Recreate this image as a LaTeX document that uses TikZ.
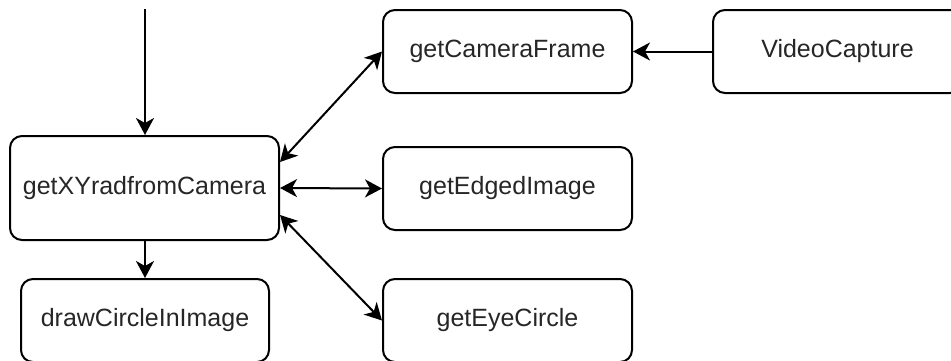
\documentclass[tikz,border=0pt]{standalone}
\usepackage{fontspec}
\setmainfont{Liberation Sans}
\usetikzlibrary{arrows.meta}
\begin{document}
\begin{tikzpicture}[x=1pt,y=-1pt,
  fn/.style={draw, line width=2pt, rounded corners=12pt, inner sep=0pt,
    minimum width=249pt, minimum height=83pt,
    font=\fontsize{25}{30}\selectfont, text=black!85},
  link/.style={line width=2pt, -{Stealth[length=17pt,width=18pt,inset=5pt]}},
  both/.style={line width=2pt, {Stealth[length=17pt,width=18pt,inset=5pt]}-{Stealth[length=17pt,width=18pt,inset=5pt]}}]
  \useasboundingbox (0,0) rectangle (951,360);
  \clip (0,0) rectangle (951,360);

  % functions
  \node[fn, minimum width=269pt, minimum height=104pt] (xy) at (144.5,188) {getXYradfromCamera};
  \node[fn, minimum width=248pt] (draw) at (145,320.5) {drawCircleInImage};
  \node[fn] (cam) at (507.5,51.5) {getCameraFrame};
  \node[fn] (edge) at (507.5,188.5) {getEdgedImage};
  \node[fn] (eye) at (507.5,320.5) {getEyeCircle};
  \node[fn] (video) at (837.5,51.5) {VideoCapture};

  % call flow
  \coordinate (in) at (145,9);
  \draw[link] (in) -- (in |- xy.north);
  \draw[link] (xy.south -| in) -- (in |- draw.north);
  \draw[link] (video.west) -- (cam.west -| cam.east);
  \draw[both] ([yshift=26pt]xy.east) -- (cam.west);
  \draw[both] (xy.east) -- (edge.west);
  \draw[both] ([yshift=-27pt]xy.east) -- (eye.west);
\end{tikzpicture}
\end{document}
